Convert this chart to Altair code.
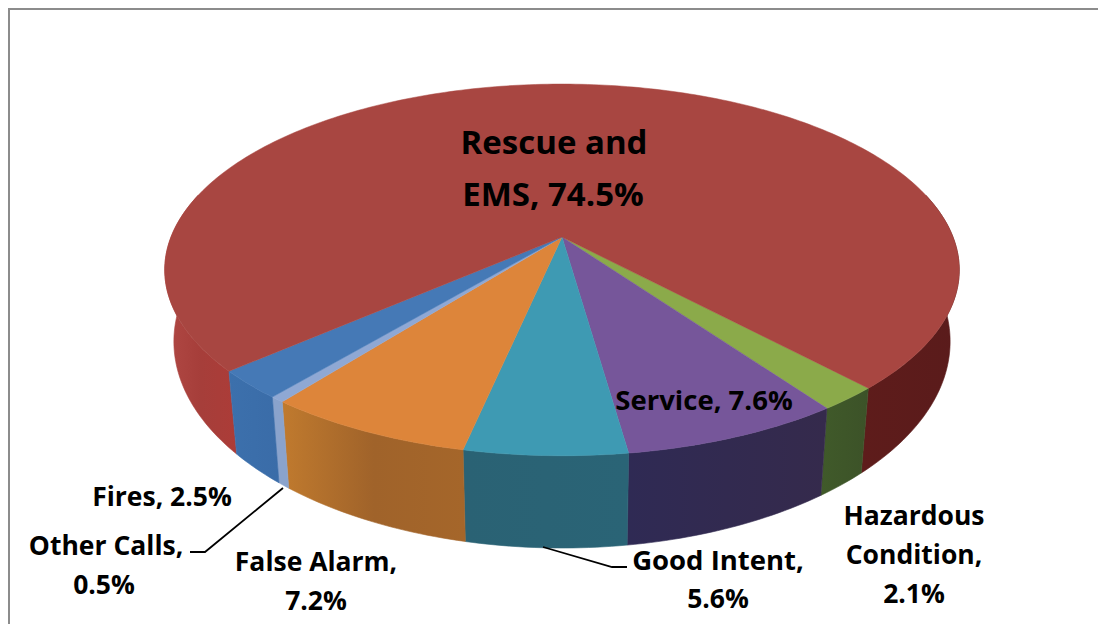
import math
import altair as alt

# ---- data ----
categories = ["Hazardous Condition", "Service", "Good Intent", "False Alarm", "Other Calls", "Fires", "Rescue and EMS"]
values = [2.1, 7.6, 5.6, 7.2, 0.5, 2.5, 74.5]
top_colors = ["#8BAA4A", "#76569A", "#3E9AB3", "#DD853A", "#8FA8D4", "#4579B6", "#A84641"]
wall_stops = [
    ["#405A2A", "#3C5228"],
    ["#2F2A54", "#352A4C"],
    ["#2A6274", "#2A6476"],
    ["#C07A2E", "#A0632A", "#A5662A"],
    ["#8AA3CC", "#8AA3CC"],
    ["#3C70AC", "#3A6CA8"],
]
rescue_wall_right = ["#5E1C1B", "#5A1B1B"]
rescue_wall_left = ["#B04844", "#A63E3A", "#AC3C38"]

label_lines = [
    ("Rescue and", 554, 144, 33), ("EMS, 74.5%", 553, 196, 33),
    ("Service, 7.6%", 704, 402, 27.5),
    ("Hazardous", 914, 517, 26.5), ("Condition,", 914, 556, 26.5), ("2.1%", 914, 595, 26.5),
    ("Good Intent,", 718, 562, 27.5), ("5.6%", 718, 600, 26.5),
    ("False Alarm,", 316, 563, 26.5), ("7.2%", 316, 602, 26.5),
    ("Fires, 2.5%", 162, 498, 26.5),
    ("Other Calls,", 106, 547, 26.5), ("0.5%", 104, 586, 26.5),
]
leaders = [
    [(283, 488), (205, 552), (190, 552)],
    [(543, 547), (612, 567), (627, 567)],
]

# ---- 3D pie view parameters (page pixels) ----
CX, CY, A, B, K = 562.0, 237.0, 391.0, 180.0, 0.177
A_LOW, CY_LOW, B_LOW = 382.0, 305.0, 200.0
START = 43.0  # degrees from the front of the pie, where the first slice begins


def rim(t, low=False):
    r = math.radians(t)
    u, v = math.sin(r), math.cos(r)
    w = 1 - K * v
    if low:
        return [CX + A_LOW * u / w, CY_LOW + B_LOW * v / w]
    return [CX + A * u / w, CY + B * v / w]


def arc(t0, t1, low=False):
    n = max(2, int(abs(t1 - t0)) + 1)
    return [rim(t0 + (t1 - t0) * i / n, low) for i in range(n + 1)]


def poly(points, color=""):
    return {"type": "Feature", "properties": {"color": color},
            "geometry": {"type": "Polygon", "coordinates": [points + [points[0]]]}}


def line(points):
    return {"type": "Feature", "properties": {},
            "geometry": {"type": "LineString", "coordinates": [list(p) for p in points]}}


def wall(t0, t1):
    return poly(arc(t0, t1) + arc(t1, t0, low=True))


def gradient(stops):
    n = len(stops) - 1
    return alt.Gradient(
        gradient="linear", x1=0, x2=1, y1=0, y2=0,
        stops=[alt.GradientStop(offset=i / n, color=c) for i, c in enumerate(stops)],
    )


# slice boundaries, clockwise on screen (t decreasing)
bounds = [START]
for val in values:
    bounds.append(bounds[-1] - val * 3.6)

layers = []


def wall_layer(t0, t1, stops):
    return alt.Chart(alt.Data(values=[wall(t0, t1)])).mark_geoshape(
        fill=gradient(stops), stroke=gradient(stops), strokeWidth=0.6
    )


# rescue walls, sides of the pie
layers.append(wall_layer(bounds[6], -104, rescue_wall_left))
layers.append(wall_layer(104, START, rescue_wall_right))
for i in range(6):
    layers.append(wall_layer(bounds[i], bounds[i + 1], wall_stops[i]))

# top faces
tops = []
for i in range(7):
    tops.append(poly([[CX, CY]] + arc(bounds[i], bounds[i + 1]), top_colors[i]))
layers.append(
    alt.Chart(alt.Data(values=tops)).mark_geoshape(strokeWidth=0.5).encode(
        fill=alt.Fill("properties.color:N", scale=None, legend=None),
        stroke=alt.Stroke("properties.color:N", scale=None, legend=None),
    )
)

# frame and leader lines
frame_lines = [line([(9, 624), (9, 9), (1098, 9)])]
layers.append(alt.Chart(alt.Data(values=frame_lines)).mark_geoshape(filled=False, stroke="#8C8C8C", strokeWidth=2))
layers.append(alt.Chart(alt.Data(values=[line(p) for p in leaders])).mark_geoshape(filled=False, stroke="#000000", strokeWidth=1.8))

# labels
rows = [{"t": t, "x": x, "y": y, "s": s} for t, x, y, s in label_lines]
layers.append(
    alt.Chart(alt.Data(values=rows)).mark_text(
        font="Open Sans", fontWeight="bold", color="#000000", align="center", baseline="middle"
    ).encode(
        longitude="x:Q", latitude="y:Q", text="t:N",
        size=alt.Size("s:Q", scale=None, legend=None),
    )
)

chart = alt.layer(*layers).project(
    type="identity", scale=1, translate=[-8, -8]
).properties(
    width=1090, height=616, padding=0, background="#FFFFFF",
    autosize=alt.AutoSizeParams(type="none"),
).configure_view(stroke=None)

chart.save("out.html", embed_options={"renderer": "svg", "actions": False})
